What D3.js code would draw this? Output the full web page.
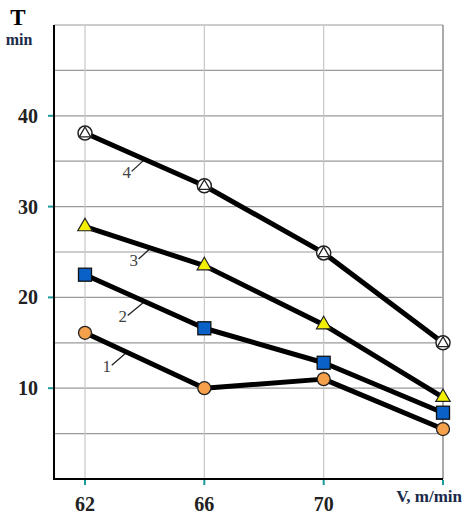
<!DOCTYPE html>
<html><head><meta charset="utf-8">
<script src="https://cdn.jsdelivr.net/npm/d3@7"></script>
<style>body{margin:0;background:#fff}svg{display:block}</style>
</head><body>
<svg id="c" width="463" height="517"></svg>
<script>
const speeds = [62, 66, 70, 74];
const series1 = [16.1, 10.0, 11.0, 5.5];
const series2 = [22.5, 16.6, 12.8, 7.3];
const series3 = [27.8, 23.5, 17.0, 9.0];
const series4 = [38.1, 32.3, 24.9, 15.0];
const yTicks = [10, 20, 30, 40];
const yGrid = [5, 10, 15, 20, 25, 30, 35, 40, 45, 50];
const seriesNames = ["1", "2", "3", "4"];
const labelAt = [63.4, 64.0, 64.2, 64.0];

const svg = d3.select("#c");
const x = d3.scaleLinear().domain([62, 74]).range([85, 443]);
const y = d3.scaleLinear().domain([0, 50]).range([479, 25]);
const x0 = 54;
const font = "'Liberation Serif','Times New Roman',serif";

// horizontal grid
svg.append("g").selectAll("line").data(yGrid).join("line")
  .attr("x1", x0).attr("x2", x(74)).attr("y1", d => y(d)).attr("y2", d => y(d))
  .attr("stroke", "#9a9a9a").attr("stroke-width", 1.2);
// vertical grid
svg.append("g").selectAll("line").data(speeds).join("line")
  .attr("x1", d => x(d)).attr("x2", d => x(d)).attr("y1", y(50)).attr("y2", y(0))
  .attr("stroke", (d, i) => i === speeds.length - 1 ? "#aaaaaa" : "#c8c8c8")
  .attr("stroke-width", (d, i) => i === speeds.length - 1 ? 2 : 1.2);

// axes
svg.append("line").attr("x1", x0).attr("x2", x0).attr("y1", y(50)).attr("y2", y(0) + 1)
  .attr("stroke", "#000").attr("stroke-width", 2);
svg.append("line").attr("x1", x0 - 1).attr("x2", x(74)).attr("y1", y(0)).attr("y2", y(0))
  .attr("stroke", "#000").attr("stroke-width", 2);

// ticks
svg.append("g").selectAll("line").data(yTicks).join("line")
  .attr("x1", x0 - 6).attr("x2", x0 - 1).attr("y1", d => y(d)).attr("y2", d => y(d))
  .attr("stroke", "#1a9a9a").attr("stroke-width", 2);
svg.append("g").selectAll("line").data(speeds).join("line")
  .attr("x1", d => x(d)).attr("x2", d => x(d)).attr("y1", y(0) + 1).attr("y2", y(0) + 6)
  .attr("stroke", "#1a9a9a").attr("stroke-width", 2);

// tick labels
svg.append("g").selectAll("text").data(yTicks).join("text")
  .attr("x", 38).attr("y", d => y(d)).attr("dy", "0.35em").attr("text-anchor", "end")
  .attr("font-family", font).attr("font-weight", "bold").attr("font-size", 20)
  .attr("fill", "#222").text(d => d);
svg.append("g").selectAll("text").data(speeds.slice(0, 3)).join("text")
  .attr("x", d => x(d)).attr("y", 511).attr("text-anchor", "middle")
  .attr("font-family", font).attr("font-weight", "bold").attr("font-size", 20)
  .attr("fill", "#222").text(d => d);

// axis titles
svg.append("text").attr("x", 18).attr("y", 25).attr("text-anchor", "middle")
  .attr("font-family", font).attr("font-weight", "bold").attr("font-size", 23).text("T");
svg.append("text").attr("x", 19).attr("y", 45).attr("text-anchor", "middle")
  .attr("font-family", font).attr("font-weight", "bold").attr("font-size", 16).attr("fill", "#1a2a4a").text("min");
svg.append("text").attr("x", 462).attr("y", 502).attr("text-anchor", "end")
  .attr("font-family", font).attr("font-weight", "bold").attr("font-size", 17).attr("fill", "#1a2a4a").text("V, m/min");

const all = [series1, series2, series3, series4];
const line = d3.line().x((d, i) => x(speeds[i])).y(d => y(d));

// labels with leader lines
const offsets = [[-15, 13], [-17, 14], [-12, 11], [-13, 12]];
all.forEach((s, k) => {
  const v = labelAt[k];
  const i = Math.min(speeds.length - 2, Math.floor((v - speeds[0]) / (speeds[1] - speeds[0])));
  const t = (v - speeds[i]) / (speeds[i + 1] - speeds[i]);
  const px = x(v), py = y(s[i] + t * (s[i + 1] - s[i]));
  const [ox, oy] = offsets[k];
  svg.append("line").attr("x1", px).attr("y1", py).attr("x2", px + ox).attr("y2", py + oy)
    .attr("stroke", "#222").attr("stroke-width", 1.3);
  svg.append("text").attr("x", px + ox - 5).attr("y", py + oy + 7).attr("text-anchor", "middle")
    .attr("font-family", font).attr("font-size", 17).attr("fill", "#444").text(seriesNames[k]);
});

// lines
all.forEach(s => {
  svg.append("path").datum(s).attr("d", line).attr("fill", "none")
    .attr("stroke", "#000").attr("stroke-width", 5).attr("stroke-linejoin", "round");
});

// markers
const g1 = svg.append("g");
g1.selectAll("circle").data(series1).join("circle")
  .attr("cx", (d, i) => x(speeds[i])).attr("cy", d => y(d)).attr("r", 6.5)
  .attr("fill", "#f5a04a").attr("stroke", "#222").attr("stroke-width", 1.3);
const g2 = svg.append("g");
g2.selectAll("rect").data(series2).join("rect")
  .attr("x", (d, i) => x(speeds[i]) - 6.5).attr("y", d => y(d) - 6.5).attr("width", 13).attr("height", 13)
  .attr("fill", "#0a62c8").attr("stroke", "#111").attr("stroke-width", 1.3);
const tri = d3.symbol().type(d3.symbolTriangle);
const g3 = svg.append("g");
g3.selectAll("path").data(series3).join("path")
  .attr("transform", (d, i) => `translate(${x(speeds[i])},${y(d)})`)
  .attr("d", tri.size(90)()).attr("fill", "#f2f000").attr("stroke", "#222").attr("stroke-width", 1.2);
const g4 = svg.append("g");
g4.selectAll("circle").data(series4).join("circle")
  .attr("cx", (d, i) => x(speeds[i])).attr("cy", d => y(d)).attr("r", 7)
  .attr("fill", "#fff").attr("stroke", "#222").attr("stroke-width", 1.5);
g4.selectAll("path").data(series4).join("path")
  .attr("transform", (d, i) => `translate(${x(speeds[i])},${y(d) + 0.5})`)
  .attr("d", tri.size(55)()).attr("fill", "#fff").attr("stroke", "#222").attr("stroke-width", 1.3);
</script>
</body></html>
